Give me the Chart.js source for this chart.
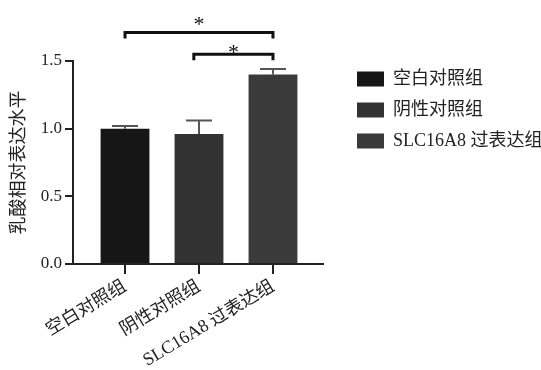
<!DOCTYPE html>
<html>
<head>
<meta charset="utf-8">
<script src="https://cdn.jsdelivr.net/npm/chart.js@4/dist/chart.umd.min.js"></script>
<style>
  html, body { margin: 0; padding: 0; background: #ffffff; }
  #wrap { width: 541px; height: 370px; }
</style>
</head>
<body>
<div id="wrap"><canvas id="c" width="541" height="370"></canvas></div>
<script>
// Groups and measured lactate levels (mean + upper error)
const categories = ['空白对照组', '阴性对照组', 'SLC16A8 过表达组'];
const meanValues = [1.00, 0.96, 1.40];
const errorValues = [0.02, 0.10, 0.04];
const barColors = ['#161616', '#323232', '#3a3a3a'];
const yTicks = [0, 0.5, 1.0, 1.5];
const yTitle = '乳酸相对表达水平';

// Significance comparisons (positions on the group axis, bracket height in y units)
const compareFrom = [1, 1.93];
const compareTo = [3, 3];
const compareLevel = [1.71, 1.55];
const compareMark = ['*', '*'];

const FONT = '"Liberation Serif", "Noto Sans CJK SC", serif';
const INK = '#222222';

const barPoints = meanValues.map((v, i) => ({ x: i + 1, y: v }));

// Upward error bars drawn from each bar's top
const errorBars = {
  id: 'errorBars',
  afterDatasetsDraw(chart) {
    const ctx = chart.ctx;
    const yScale = chart.scales.y;
    const bars = chart.getDatasetMeta(0).data;
    ctx.save();
    ctx.strokeStyle = '#555555';
    ctx.lineWidth = 2;
    bars.forEach((el, i) => {
      const top = yScale.getPixelForValue(meanValues[i] + errorValues[i]);
      ctx.beginPath();
      ctx.moveTo(el.x, el.y);
      ctx.lineTo(el.x, top);
      ctx.moveTo(el.x - 13, top);
      ctx.lineTo(el.x + 13, top);
      ctx.stroke();
    });
    ctx.restore();
  }
};

// Significance brackets with star marks
const brackets = {
  id: 'brackets',
  afterDatasetsDraw(chart, args, opts) {
    const ctx = chart.ctx;
    const xs = chart.scales.x, ys = chart.scales.y;
    ctx.save();
    ctx.strokeStyle = '#111111';
    ctx.fillStyle = '#111111';
    ctx.lineWidth = 3;
    ctx.lineCap = 'butt';
    compareFrom.forEach((f, i) => {
      const x1 = xs.getPixelForValue(f);
      const x2 = xs.getPixelForValue(compareTo[i]);
      const y = ys.getPixelForValue(compareLevel[i]);
      ctx.beginPath();
      ctx.moveTo(x1, y + opts.drop);
      ctx.lineTo(x1, y);
      ctx.lineTo(x2, y);
      ctx.lineTo(x2, y + opts.drop);
      ctx.stroke();
      const size = 22;
      ctx.font = size + 'px ' + FONT;
      ctx.textAlign = 'center';
      ctx.textBaseline = 'alphabetic';
      const cy = y - opts.starLift[i];
      ctx.fillText(compareMark[i], (x1 + x2) / 2, cy + 0.47 * size);
    });
    ctx.restore();
  }
};

// Legend listing each group with its bar colour
const sideLegend = {
  id: 'sideLegend',
  afterDraw(chart, args, opts) {
    const ctx = chart.ctx;
    ctx.save();
    ctx.font = '18px ' + FONT;
    ctx.textAlign = 'left';
    ctx.textBaseline = 'middle';
    categories.forEach((name, i) => {
      const cy = opts.top + i * opts.step;
      ctx.fillStyle = barColors[i];
      ctx.fillRect(opts.left, cy - 7.5, 27, 15);
      ctx.fillStyle = INK;
      ctx.fillText(name, opts.left + 36, cy);
    });
    ctx.restore();
  }
};

new Chart(document.getElementById('c'), {
  type: 'bar',
  data: {
    datasets: [{
      data: barPoints,
      backgroundColor: barColors,
      borderWidth: 0,
      barPercentage: 0.66,
      categoryPercentage: 1.0
    }]
  },
  options: {
    responsive: false,
    animation: false,
    devicePixelRatio: 1,
    layout: { padding: { left: 6, top: 61, right: 218, bottom: 0 } },
    plugins: {
      legend: { display: false },
      tooltip: { enabled: false },
      brackets: { drop: 6, starLift: [11.5, 5.5] },
      sideLegend: { left: 357, top: 79, step: 31 }
    },
    scales: {
      x: {
        type: 'linear',
        offset: false,
        min: 0.297,
        max: 3.676,
        afterBuildTicks(scale) {
          scale.ticks = categories.map((_, i) => ({ value: i + 1 }));
        },
        afterFit(scale) { scale.height = 106; },
        ticks: {
          autoSkip: false,
          minRotation: 31,
          maxRotation: 31,
          padding: 2,
          color: INK,
          font: { family: FONT, size: 18 },
          callback: (v) => categories[v - 1]
        },
        grid: {
          offset: false,
          drawOnChartArea: false,
          drawTicks: true,
          tickLength: 10,
          color: INK,
          lineWidth: 2
        },
        border: { display: true, color: INK, width: 2 }
      },
      y: {
        min: 0,
        max: 1.5,
        afterBuildTicks(scale) {
          scale.ticks = yTicks.map(v => ({ value: v }));
        },
        afterFit(scale) { scale.width = 67; },
        ticks: {
          padding: 3,
          color: INK,
          font: { family: FONT, size: 17 },
          callback: (v) => Number(v).toFixed(1)
        },
        grid: {
          drawOnChartArea: false,
          drawTicks: true,
          tickLength: 8,
          color: INK,
          lineWidth: 2
        },
        border: { display: true, color: INK, width: 2 },
        title: {
          display: true,
          text: yTitle,
          color: INK,
          font: { family: FONT, size: 18 },
          padding: { top: 2, bottom: 4 }
        }
      }
    }
  },
  plugins: [errorBars, brackets, sideLegend]
});
</script>
</body>
</html>
